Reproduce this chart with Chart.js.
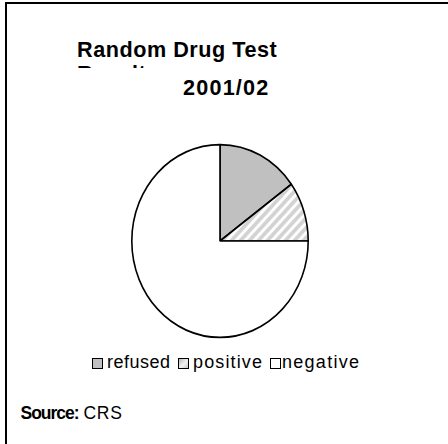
<!DOCTYPE html>
<html lang="en">
<head>
  <meta charset="utf-8" />
  <title>Random Drug Test Results 2001/02</title>
  <script src="https://cdn.jsdelivr.net/npm/chart.js@4/dist/chart.umd.min.js"></script>
  <style>
    html, body {
      margin: 0;
      padding: 0;
      background: #fff;
      width: 448px;
      height: 444px;
      overflow: hidden;
      font-family: "Liberation Sans", Arial, sans-serif;
      color: #000;
    }
    #frame {
      position: absolute;
      left: 5px;
      top: 2px;
      width: 460px;
      height: 440px;
      border-left: 2px solid #000;
      border-top: 2px solid #000;
      border-bottom: 1px solid #555;
    }
    .t {
      position: absolute;
      white-space: nowrap;
      line-height: 1;
    }
    #title1 { left: 77px; top: 39px; font-size: 21.6px; font-weight: bold; letter-spacing: 0.55px; }
    #title2clip { position: absolute; left: 77px; top: 65px; width: 120px; height: 3px; overflow: hidden; }
    #title2 { left: 0; top: -2px; font-size: 21.6px; font-weight: bold; letter-spacing: 0.55px; }
    #title3 { left: 183px; top: 76.7px; font-size: 21.6px; font-weight: bold; letter-spacing: 1.2px; }
    #pieBox {
      position: absolute;
      left: 131px;
      top: 142.5px;
      width: 178px;
      height: 196px;
    }
    #legend .box {
      position: absolute;
      top: 358px;
      width: 9px;
      height: 9px;
      border: 1px solid #000;
    }
    #legend .label {
      position: absolute;
      top: 353px;
      font-size: 18px;
      line-height: 1;
      white-space: nowrap;
    }
    #source { left: 20.5px; top: 404.5px; font-size: 17.5px; }
    #source b { letter-spacing: -1px; }
    #source span { letter-spacing: 0.7px; }
  </style>
</head>
<body>
  <div id="frame"></div>
  <div class="t" id="title1">Random Drug Test</div>
  <div id="title2clip"><div class="t" id="title2">Results</div></div>
  <div class="t" id="title3">2001/02</div>
  <div id="pieBox"><canvas id="pie" width="178" height="196"></canvas></div>
  <div id="legend"></div>
  <div class="t" id="source"><b>Source:</b> <span>CRS</span></div>

  <script>
    // Test outcomes, percent of random tests
    const outcomes = ["refused", "positive", "negative"];
    const shares = [15, 10, 75];

    // Hatched fill for the "positive" slice
    function stripePattern() {
      const tile = document.createElement("canvas");
      tile.width = 9;
      tile.height = 9;
      const t = tile.getContext("2d");
      t.fillStyle = "#ffffff";
      t.fillRect(0, 0, 9, 9);
      t.strokeStyle = "#d2d2d2";
      t.lineWidth = 3.5;
      t.beginPath();
      t.moveTo(-3, 3); t.lineTo(3, -3);
      t.moveTo(0, 9); t.lineTo(9, 0);
      t.moveTo(6, 12); t.lineTo(12, 6);
      t.stroke();
      return t.createPattern(tile, "repeat");
    }

    const ctx = document.getElementById("pie").getContext("2d");
    const sliceFills = ["#c0c0c0", stripePattern(), "#ffffff"];
    const legendFills = [
      "#c0c0c0",
      "linear-gradient(135deg, #b8b8b8 0%, #f2f2f2 55%, #c8c8c8 100%)",
      "#ffffff"
    ];
    // legend layout: swatch x and label x per item
    const legendBoxX = [92, 178, 270];
    const legendTextX = [107, 193, 282];
    const legendTextW = [63, 69, 77];

    // the pie is drawn slightly taller than wide
    const ovalPlugin = {
      id: "oval",
      beforeDatasetsDraw(chart) {
        const c = chart.ctx;
        const cx = (chart.chartArea.left + chart.chartArea.right) / 2;
        const cy = (chart.chartArea.top + chart.chartArea.bottom) / 2;
        c.save();
        c.translate(cx, cy);
        c.scale(1, 96.5 / 88.25);
        c.translate(-cx, -cy);
      },
      afterDatasetsDraw(chart) {
        chart.ctx.restore();
      }
    };

    new Chart(ctx, {
      type: "pie",
      data: {
        labels: outcomes,
        datasets: [{
          data: shares,
          backgroundColor: sliceFills,
          borderColor: "#000000",
          borderWidth: 1.6
        }]
      },
      options: {
        responsive: false,
        animation: false,
        events: [],
        layout: { padding: 0 },
        plugins: {
          legend: { display: false },
          tooltip: { enabled: false },
          title: { display: false }
        }
      },
      plugins: [ovalPlugin]
    });

    // legend row, labels stretched to the widths used on the original sheet
    const legend = document.getElementById("legend");
    outcomes.forEach((name, i) => {
      const box = document.createElement("div");
      box.className = "box";
      box.style.left = legendBoxX[i] + "px";
      box.style.background = legendFills[i];
      legend.appendChild(box);

      const label = document.createElement("div");
      label.className = "label";
      label.style.left = legendTextX[i] + "px";
      label.textContent = name;
      legend.appendChild(label);
      const natural = label.getBoundingClientRect().width;
      const extra = (legendTextW[i] - natural) / Math.max(name.length - 1, 1);
      label.style.letterSpacing = extra.toFixed(2) + "px";
    });
  </script>
</body>
</html>
